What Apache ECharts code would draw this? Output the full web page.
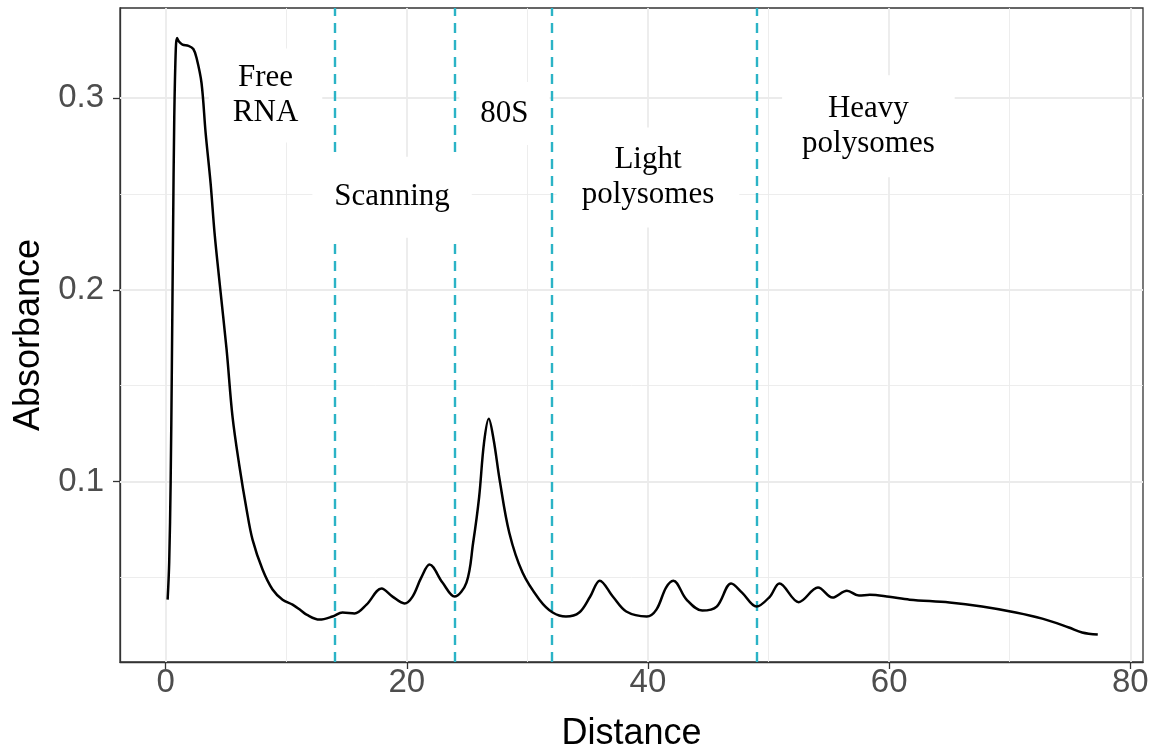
<!DOCTYPE html>
<html>
<head>
<meta charset="utf-8">
<script src="https://cdn.jsdelivr.net/npm/echarts@6/dist/echarts.min.js"></script>
<style>
html,body{margin:0;padding:0;background:#fff;}
#chart{width:1157px;height:750px;}
</style>
</head>
<body>
<div id="chart"></div>
<script>
// ---- data ----
const distance = [0.17,0.30,0.42,0.52,0.62,0.72,0.85,0.95,1.10,1.40,1.90,2.30,2.57,2.98,3.32,3.73,4.06,4.48,5.06,5.55,6.13,6.72,7.21,8.04,8.87,9.70,10.53,11.20,11.69,12.77,13.84,14.67,15.67,16.66,17.91,18.82,19.81,20.48,21.20,21.89,22.96,23.96,24.95,25.5,26.0,26.4,26.8,27.2,27.7,28.5,29.6,31.0,32.1,33.2,34.3,35.2,36.0,37.1,38.2,39.9,40.7,41.5,42.1,43.2,44.5,45.7,46.9,47.8,49.0,50.1,50.9,52.5,54.1,55.3,56.5,57.5,58.4,60.0,61.7,65.0,67.7,70.5,72.7,74.9,76.0,77.3];
const absorbance = [0.0385,0.058,0.100,0.160,0.230,0.290,0.326,0.3312,0.3295,0.3278,0.3272,0.3255,0.3208,0.3078,0.2818,0.2557,0.2297,0.2036,0.1688,0.1339,0.1078,0.0854,0.0698,0.0542,0.0438,0.0385,0.0359,0.0330,0.0307,0.0281,0.0297,0.0318,0.0313,0.0359,0.0443,0.0401,0.0365,0.0401,0.0500,0.0568,0.0474,0.0401,0.0474,0.068,0.092,0.120,0.1328,0.122,0.101,0.0734,0.0526,0.0385,0.0318,0.0297,0.0318,0.040,0.0484,0.040,0.0323,0.0297,0.0333,0.0448,0.0484,0.0385,0.0328,0.0349,0.0469,0.0422,0.0349,0.040,0.0469,0.0372,0.0448,0.0396,0.0432,0.0406,0.0411,0.040,0.0385,0.037,0.0349,0.0318,0.0286,0.024,0.0214,0.0203];

const boundaries = [14, 24, 32, 49];
const regionNames = ['Free\nRNA', 'Scanning', '80S', 'Light\npolysomes', 'Heavy\npolysomes'];
const regionX = [8.29, 18.78, 28.10, 40.0, 58.28];
const regionY = [0.3013, 0.2482, 0.2919, 0.2586, 0.2852];

const xTicks = [0, 20, 40, 60, 80];
const xMinor = [10, 30, 50, 70];
const yTicks = [0.1, 0.2, 0.3];
const yMinor = [0.05, 0.15, 0.25];

// ---- styles ----
const labelPads = [[12,24],[23,22],[14,21],[15,25],[16,20]];

const curve = distance.map((d, i) => [d, absorbance[i]]);
const regionData = regionNames.map((n, i) => [regionX[i], regionY[i], i]);

const gridLines = (vals, axis, width) => vals.map(v => ({ [axis]: v, lineStyle: { width: width } }));

const chart = echarts.init(document.getElementById('chart'));
chart.setOption({
  animation: false,
  backgroundColor: '#ffffff',
  grid: {
    left: 120, top: 8, right: 14, bottom: 88,
    outerBoundsMode: 'none', containLabel: false,
    show: true, borderColor: '#333333', borderWidth: 1.3, backgroundColor: 'transparent'
  },
  xAxis: {
    type: 'value', min: -3.78, max: 81.05,
    name: 'Distance', nameLocation: 'middle', nameGap: 54,
    nameTextStyle: { fontFamily: 'Liberation Sans, Arial', fontSize: 36, color: '#000' },
    axisLine: { show: true, onZero: false, lineStyle: { color: '#333333', width: 1.3 } },
    axisTick: { show: true, length: 7, customValues: xTicks, lineStyle: { color: '#333333', width: 1.3 } },
    axisLabel: { customValues: xTicks, margin: 4, fontFamily: 'Liberation Sans, Arial', fontSize: 33, color: '#4D4D4D' },
    splitLine: { show: false }
  },
  yAxis: {
    type: 'value', min: 0.006, max: 0.3469,
    name: 'Absorbance', nameLocation: 'middle', nameGap: 66, nameRotate: 90,
    nameTextStyle: { fontFamily: 'Liberation Sans, Arial', fontSize: 36, color: '#000' },
    axisLine: { show: true, onZero: false, lineStyle: { color: '#333333', width: 1.3 } },
    axisTick: { show: true, length: 7, customValues: yTicks, lineStyle: { color: '#333333', width: 1.3 } },
    axisLabel: { customValues: yTicks, margin: 16, fontFamily: 'Liberation Sans, Arial', fontSize: 33, color: '#4D4D4D',
      formatter: v => v.toFixed(1) },
    splitLine: { show: false }
  },
  series: [
    {
      name: 'grid', type: 'line', data: [], z: 1, silent: true,
      markLine: {
        z: 1, silent: true, symbol: ['none', 'none'], label: { show: false }, animation: false,
        lineStyle: { color: '#EBEBEB', type: 'solid' },
        data: [].concat(
          gridLines(xMinor, 'xAxis', 0.9), gridLines(yMinor, 'yAxis', 0.9),
          gridLines(xTicks, 'xAxis', 1.8), gridLines(yTicks, 'yAxis', 1.8)
        )
      }
    },
    {
      name: 'bounds', type: 'line', data: [], z: 2, silent: true,
      markLine: {
        z: 2, silent: true, symbol: ['none', 'none'], label: { show: false }, animation: false,
        lineStyle: { color: '#2BB3C6', type: [10, 7], width: 2.4 },
        data: boundaries.map(b => ({ xAxis: b }))
      }
    },
    {
      name: 'regions', type: 'custom', z: 10, silent: true,
      data: regionData,
      renderItem: function (params, api) {
        const p = api.coord([api.value(0), api.value(1)]);
        const i = api.value(2);
        return {
          type: 'text',
          x: p[0], y: p[1],
          style: {
            text: regionNames[i],
            align: 'center', verticalAlign: 'middle',
            fontFamily: 'Liberation Serif, Times New Roman, serif', fontSize: 31, lineHeight: 35,
            fill: '#000000', backgroundColor: '#ffffff', padding: labelPads[i]
          }
        };
      }
    },
    {
      name: 'Absorbance', type: 'line', z: 11, data: curve,
      showSymbol: false, symbol: 'none', smooth: 0.35,
      lineStyle: { color: '#000000', width: 2.5 }
    }
  ]
});
</script>
</body>
</html>
